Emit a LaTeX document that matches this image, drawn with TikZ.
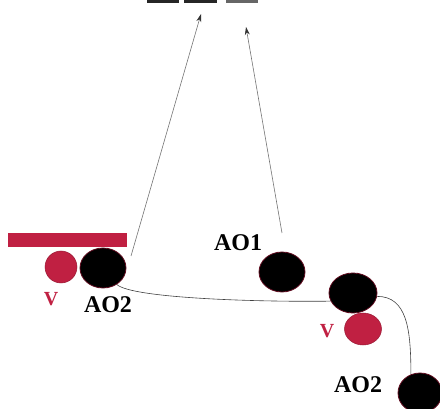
\documentclass[tikz,border=0pt]{standalone}
\usepackage{fontspec}
\setmainfont{Liberation Serif}
\usepackage{xcolor}
\usetikzlibrary{shapes,arrows.meta,positioning,calc}

\definecolor{wine}{RGB}{192,32,66}
\definecolor{rim}{RGB}{95,10,30}

\tikzset{
    ball/.style={ellipse, fill=black, draw=rim, line width=0.8pt, inner sep=0pt,
        minimum width=46pt, minimum height=40pt},
    vball/.style={ellipse, fill=wine, draw=wine!80!black, line width=0.5pt, inner sep=0pt,
        minimum width=#1, minimum height=32pt},
    aolabel/.style={font=\fontsize{24}{26}\selectfont\bfseries, text=black},
    vlabel/.style={font=\fontsize{20}{22}\selectfont\bfseries, text=wine},
    wire/.style={draw=black!75, line width=0.6pt},
    ray/.style={draw=black!55, line width=0.6pt, -{Stealth[length=8pt,width=5pt,color=black!80]}},
}

\begin{document}
\begin{tikzpicture}[x=1pt, y=-1pt]
    \useasboundingbox (0,0) rectangle (440,409);

    % Bars on top
    \fill[black!85] (147,-1) rectangle (179,3.5);
    \fill[black!85] (184,-1) rectangle (217,3.5);
    \fill[black!60] (226,-1) rectangle (258,3.5);

    % Left group
    \fill[wine] (8,233) rectangle (127,247);
    \node[vball=32pt] (vA) at (61,267) {};
    \node[ball] (aoB) at (103,268) {};
    \node[vlabel] (vlA) at (51,299) {V};
    \node[aolabel] (aoBlab) at (108,305) {AO2};

    % Middle
    \node[ball] (aoA) at (282,272) {};
    \node[aolabel] (aoAlab) at (238,243) {AO1};

    % Right group
    \node[vball=37pt] (vB) at (363,329) {};
    \node[ball, minimum width=48pt] (aoC) at (353,293) {};
    \node[vlabel] (vlB) at (327,331) {V};
    \node[ball, minimum width=44pt] (aoD) at (420,393) {};
    \node[aolabel] (aoDlab) at (358,385) {AO2};

    % Chain
    \draw[wire] (aoB.-50) .. controls +(15,14) and +(-70,1) .. (aoC.200);
    \draw[wire] (aoC.-8) .. controls +(30,0) and +(0,-45) .. (aoD.116);

    % Rays to the top
    \coordinate (s1) at (131,256);
    \coordinate (t1) at (201,14);
    \coordinate (s2) at (282,233);
    \coordinate (t2) at (246,27);
    \draw[ray] (s1) -- (t1);
    \draw[ray] (s2) -- (t2);
\end{tikzpicture}
\end{document}
